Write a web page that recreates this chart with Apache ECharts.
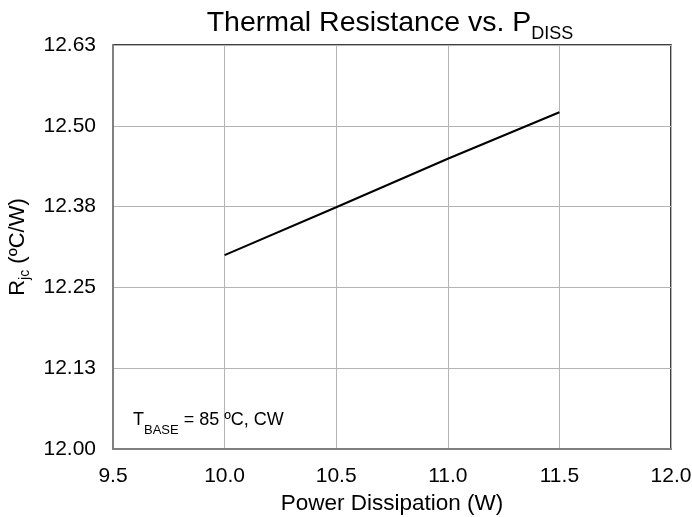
<!DOCTYPE html>
<html>
<head>
<meta charset="utf-8">
<script src="https://cdn.jsdelivr.net/npm/echarts@6/dist/echarts.min.js"></script>
<style>html,body{margin:0;padding:0;background:#fff}#c{width:692px;height:517px}</style>
</head>
<body>
<div id="c"></div>
<script>
var powerW = [10.0, 10.5, 11.0, 11.5];
var rjc = [12.300, 12.374, 12.449, 12.521];
var xTicks = [9.5, 10.0, 10.5, 11.0, 11.5, 12.0];
var yTicks = [12.000, 12.125, 12.250, 12.375, 12.500, 12.625];

var FONT = 'Liberation Sans, Arial, sans-serif';
var chart = echarts.init(document.getElementById('c'));
chart.setOption({
  animation: false,
  backgroundColor: '#fff',
  textStyle: {fontFamily: FONT},
  title: {
    text: '{a|Thermal Resistance vs. P}{b|DISS}',
    left: 390, textAlign: 'center', top: 9, padding: 0,
    textStyle: {
      fontWeight: 'normal',
      rich: {
        a: {fontSize: 28.5, fontFamily: FONT, fontWeight: 'normal', color: '#000', lineHeight: 34.5, verticalAlign: 'top'},
        b: {fontSize: 18, fontFamily: FONT, fontWeight: 'normal', color: '#000', lineHeight: 14, verticalAlign: 'bottom'}
      }
    }
  },
  grid: {left: 113, right: 21, top: 45, bottom: 68, show: true, borderColor: '#000', borderWidth: 1.5, backgroundColor: '#fff', containLabel: false, outerBoundsMode: 'none'},
  xAxis: {
    type: 'value', min: xTicks[0], max: xTicks[xTicks.length - 1], interval: 0.5,
    name: 'Power Dissipation (W)', nameLocation: 'middle', nameGap: 43,
    nameTextStyle: {fontSize: 22.5, color: '#000', fontFamily: FONT},
    axisLine: {show: true, onZero: false, lineStyle: {color: '#808080', width: 2}},
    axisTick: {show: false},
    axisLabel: {fontSize: 21, color: '#000', margin: 17, fontFamily: FONT, hideOverlap: false, formatter: function (v) { return v.toFixed(1); }},
    splitLine: {show: true, lineStyle: {color: '#b4b4b4', width: 1}}
  },
  yAxis: {
    type: 'value', min: yTicks[0], max: yTicks[yTicks.length - 1], interval: 0.125,
    name: '{a|R}{b|jc}{a| (ºC/W)}', nameLocation: 'middle', nameGap: 80, nameRotate: 90,
    nameTextStyle: {
      rich: {
        a: {fontSize: 22, color: '#000', fontFamily: FONT, lineHeight: 26, verticalAlign: 'top'},
        b: {fontSize: 14, color: '#000', fontFamily: FONT, lineHeight: 12, verticalAlign: 'bottom'}
      }
    },
    axisLine: {show: true, onZero: false, lineStyle: {color: '#808080', width: 2}},
    axisTick: {show: false},
    axisLabel: {fontSize: 21, color: '#000', margin: 17, fontFamily: FONT, formatter: function (v) { return v.toFixed(2); }},
    splitLine: {show: true, lineStyle: {color: '#b4b4b4', width: 1}}
  },
  graphic: [{
    type: 'text', left: 133, top: 411, z: 100,
    style: {
      text: '{a|T}{b|BASE}{a| = 85 ºC, CW}',
      rich: {
        a: {fontSize: 18, fill: '#000', fontFamily: FONT, lineHeight: 25.5, verticalAlign: 'top'},
        b: {fontSize: 13, fill: '#000', fontFamily: FONT, lineHeight: 12, verticalAlign: 'bottom'}
      }
    }
  }],
  series: [{
    type: 'line',
    data: powerW.map(function (x, i) { return [x, rjc[i]]; }),
    showSymbol: false, symbol: 'none',
    lineStyle: {color: '#000', width: 2},
    z: 10
  }]
});
</script>
</body>
</html>
